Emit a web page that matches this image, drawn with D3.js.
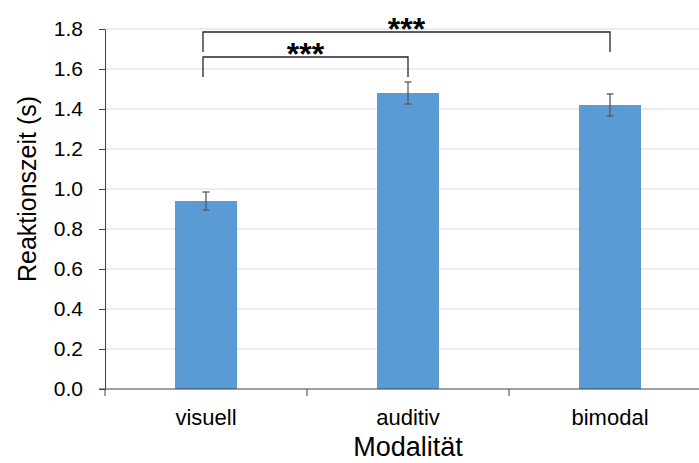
<!DOCTYPE html>
<html>
<head>
<meta charset="utf-8">
<script src="https://cdn.jsdelivr.net/npm/d3@7"></script>
<style>
  body { margin: 0; background: #fff; }
  text { font-family: "Liberation Sans", Arial, sans-serif; }
</style>
</head>
<body>
<div id="chart"></div>
<script>
// data
const categories = ['visuell', 'auditiv', 'bimodal'];
const means = [0.94, 1.48, 1.42];
const errors = [0.045, 0.055, 0.055];
const yTicks = [0, 0.2, 0.4, 0.6, 0.8, 1.0, 1.2, 1.4, 1.6, 1.8];
// signifikanz-klammern: [von, bis, hoehe der linie, ende der beine, text]
const brackets = [
  ['visuell', 'auditiv', 1.66, 1.56, '***'],
  ['visuell', 'bimodal', 1.785, 1.685, '***']
];

const width = 699;
const height = 463;
const plotLeft = 105;
const plotTop = 29;
const plotBottom = 389;
const font = '"Liberation Sans", Arial, sans-serif';

const svg = d3.select('#chart').append('svg')
  .attr('width', width)
  .attr('height', height);

const x = d3.scaleBand()
  .domain(categories)
  .range([plotLeft, plotLeft + 3 * 202])
  .paddingInner(0)
  .paddingOuter(0);

const y = d3.scaleLinear()
  .domain([0, 1.8])
  .range([plotBottom, plotTop]);

const barW = 62;

// gitterlinien
svg.append('g')
  .selectAll('line')
  .data(yTicks.slice(1))
  .enter()
  .append('line')
  .attr('x1', plotLeft)
  .attr('x2', width)
  .attr('y1', (d) => y(d))
  .attr('y2', (d) => y(d))
  .attr('stroke', '#d9d9d9')
  .attr('stroke-width', 1);

// balken
svg.append('g')
  .selectAll('rect')
  .data(categories)
  .enter()
  .append('rect')
  .attr('x', (d) => x(d) + x.bandwidth() / 2 - barW / 2)
  .attr('width', barW)
  .attr('y', (d, i) => y(means[i]))
  .attr('height', (d, i) => y(0) - y(means[i]))
  .attr('fill', '#5b9bd5');

// fehlerbalken
const errG = svg.append('g').attr('stroke', '#595959').attr('stroke-width', 1.3);
categories.forEach((c, i) => {
  const cx = x(c) + x.bandwidth() / 2;
  const y1 = y(means[i] + errors[i]);
  const y2 = y(means[i] - errors[i]);
  errG.append('line').attr('x1', cx).attr('x2', cx).attr('y1', y1).attr('y2', y2);
  errG.append('line').attr('x1', cx - 3.5).attr('x2', cx + 3.5).attr('y1', y1).attr('y2', y1);
  errG.append('line').attr('x1', cx - 3.5).attr('x2', cx + 3.5).attr('y1', y2).attr('y2', y2);
});

// y-achse
const yAxis = svg.append('g')
  .attr('transform', `translate(${plotLeft},0)`)
  .call(d3.axisLeft(y).tickValues(yTicks).tickFormat(d3.format('.1f')).tickSizeInner(6).tickSizeOuter(0).tickPadding(16));
yAxis.select('.domain').attr('stroke', '#404040');
yAxis.selectAll('.tick line').attr('stroke', '#404040');
yAxis.selectAll('.tick text')
  .attr('font-size', 21)
  .attr('fill', '#000')
  .attr('font-family', font);

// x-achse
const xAxis = svg.append('g')
  .attr('transform', `translate(0,${plotBottom})`)
  .call(d3.axisBottom(x).tickSize(0).tickPadding(20));
xAxis.select('.domain').remove();
xAxis.append('line')
  .attr('x1', plotLeft - 6).attr('x2', width)
  .attr('stroke', '#404040');
xAxis.selectAll('.tick text')
  .attr('font-size', 22)
  .attr('fill', '#000')
  .attr('font-family', font);
// teilstriche zwischen den kategorien
xAxis.selectAll('.sep')
  .data(categories)
  .enter()
  .append('line')
  .attr('class', 'sep')
  .attr('x1', (d) => x(d))
  .attr('x2', (d) => x(d))
  .attr('y1', 0)
  .attr('y2', 7)
  .attr('stroke', '#404040');

// achsentitel
svg.append('text')
  .attr('transform', 'translate(36,189) rotate(-90)')
  .attr('text-anchor', 'middle')
  .attr('font-size', 25)
  .attr('fill', '#000')
  .text('Reaktionszeit (s)');

svg.append('text')
  .attr('x', x('auditiv') + x.bandwidth() / 2)
  .attr('y', 456)
  .attr('text-anchor', 'middle')
  .attr('font-size', 27)
  .attr('fill', '#000')
  .text('Modalität');

// signifikanz
const sigG = svg.append('g');
brackets.forEach((b) => {
  const x1 = x(b[0]) + x.bandwidth() / 2 - 3;
  const x2 = x(b[1]) + x.bandwidth() / 2;
  const yl = y(b[2]);
  const yb = y(b[3]);
  sigG.append('path')
    .attr('d', `M${x1},${yb}V${yl}H${x2}V${yb}`)
    .attr('fill', 'none')
    .attr('stroke', '#262626')
    .attr('stroke-width', 1.3);
  sigG.append('text')
    .attr('x', (x1 + x2) / 2)
    .attr('y', yl + 8)
    .attr('text-anchor', 'middle')
    .attr('font-size', 32)
    .attr('font-weight', 'bold')
    .attr('fill', '#000')
    .text(b[4]);
});
</script>
</body>
</html>
